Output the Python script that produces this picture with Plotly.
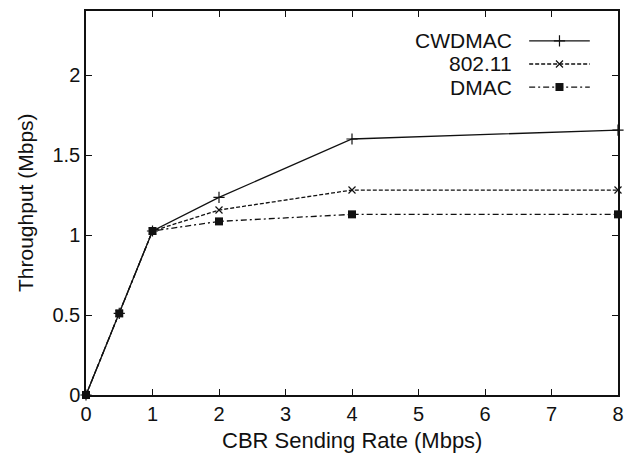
import plotly.graph_objects as go

# ---- data ----
rates = [0, 0.5, 1, 2, 4, 8]
cwdmac = [0, 0.51, 1.025, 1.235, 1.60, 1.656]
ieee80211 = [0, 0.51, 1.025, 1.156, 1.281, 1.281]
dmac = [0, 0.51, 1.025, 1.085, 1.129, 1.129]
series_names = ["CWDMAC", "802.11", "DMAC"]
x_ticks = [0, 1, 2, 3, 4, 5, 6, 7, 8]
y_ticks = [0, 0.5, 1, 1.5, 2]
y_tick_labels = ["0", "0.5", "1", "1.5", "2"]
x_title = "CBR Sending Rate (Mbps)"
y_title = "Throughput (Mbps)"

FONT = "Liberation Sans, Arial, Helvetica, sans-serif"
INK = "#111111"

styles = [
    dict(dash="solid", symbol="cross-thin", size=8, mline=1.2),
    dict(dash="4px,2px", symbol="x-thin", size=7, mline=1.2),
    dict(dash="6px,3px,2px,3px", symbol="square", size=8, mline=0),
]
values = [cwdmac, ieee80211, dmac]

fig = go.Figure()
for name, vals, st in zip(series_names, values, styles):
    fig.add_trace(go.Scatter(
        x=rates, y=vals, name=name, mode="lines+markers",
        line=dict(color=INK, width=1.3, dash=st["dash"]),
        marker=dict(symbol=st["symbol"], size=st["size"], color=INK,
                    line=dict(color=INK, width=st["mline"])),
        showlegend=False, cliponaxis=False,
    ))

# custom legend (text right-aligned, sample to its right), on an overlay axis in [0,1]
leg_y = [0.922, 0.862, 0.802]
x0, x1 = 0.833, 0.947
for name, st, yy in zip(series_names, styles, leg_y):
    fig.add_trace(go.Scatter(
        x=[x0, x1], y=[yy, yy], mode="lines", xaxis="x2", yaxis="y2",
        line=dict(color=INK, width=1.3, dash=st["dash"]),
        showlegend=False, hoverinfo="skip"))
    fig.add_trace(go.Scatter(
        x=[(x0 + x1) / 2], y=[yy], mode="markers", xaxis="x2", yaxis="y2",
        marker=dict(symbol=st["symbol"], size=st["size"], color=INK,
                    line=dict(color=INK, width=st["mline"])),
        showlegend=False, hoverinfo="skip"))
    fig.add_annotation(x=0.803, y=yy, xref="paper", yref="paper",
                       text=name, showarrow=False, xanchor="right", yanchor="middle",
                       borderpad=0,
                       font=dict(family=FONT, size=21, color=INK))

# axis titles
fig.add_annotation(x=0.5, y=-45 / 384, xref="paper", yref="paper", text=x_title,
                   showarrow=False, xanchor="center", yanchor="middle",
                   font=dict(family=FONT, size=22, color=INK))
fig.add_annotation(x=-61 / 532, y=0.5, xref="paper", yref="paper", text=y_title,
                   showarrow=False, xanchor="center", yanchor="middle", textangle=-90,
                   font=dict(family=FONT, size=21, color=INK))

axis_common = dict(showline=True, linecolor=INK, linewidth=1.5, mirror="ticks",
                   ticks="inside", ticklen=6, tickwidth=1, tickcolor=INK,
                   showgrid=False, zeroline=False,
                   tickfont=dict(family=FONT, size=20, color=INK))

fig.update_layout(
    width=627, height=447,
    margin=dict(l=78, r=17, t=3, b=60, autoexpand=False),
    paper_bgcolor="white", plot_bgcolor="white",
    xaxis=dict(range=[0, 8], tickvals=x_ticks, **axis_common),
    yaxis=dict(range=[0, 2.4], tickvals=y_ticks, ticktext=y_tick_labels, **axis_common),
    xaxis2=dict(range=[0, 1], overlaying="x", visible=False, fixedrange=True),
    yaxis2=dict(range=[0, 1], overlaying="y", visible=False, fixedrange=True),
)

fig.write_html("out.html")
